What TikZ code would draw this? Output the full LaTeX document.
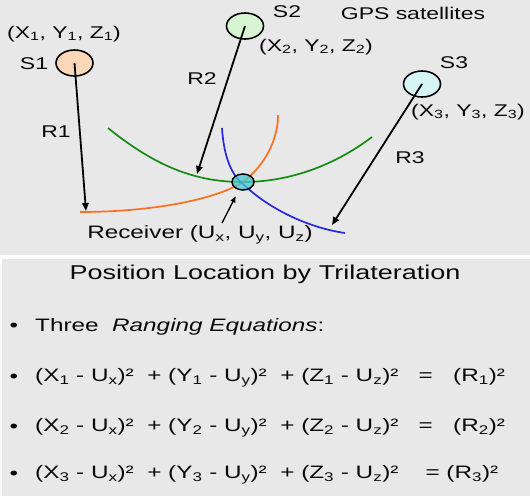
\documentclass[tikz,border=0pt]{standalone}
\usepackage{fontspec}
\setmainfont{Liberation Sans}[FakeStretch=1.35]
\usetikzlibrary{shapes.geometric,arrows.meta}
\definecolor{bg}{RGB}{232,232,232}
\definecolor{txt}{RGB}{10,10,10}
\definecolor{arcgreen}{RGB}{20,140,20}
\definecolor{arcorange}{RGB}{255,110,30}
\definecolor{arcblue}{RGB}{40,40,220}
\definecolor{sonefill}{RGB}{250,215,185}
\definecolor{stwofill}{RGB}{215,245,210}
\definecolor{sthreefill}{RGB}{215,245,245}
\definecolor{rxfill}{RGB}{70,200,210}
\newcommand{\sbs}[1]{\textsubscript{#1}}
\newcommand{\sqr}{²}
\begin{document}
\begin{tikzpicture}[x=1pt,y=-1pt,
  lbl/.style={inner sep=0pt, text=txt, font=\fontsize{17}{19}\selectfont},
  eqn/.style={inner sep=0pt, text=txt, font=\fontsize{18}{20}\selectfont, anchor=west},
  bul/.style={inner sep=0pt, text=txt, font=\fontsize{18}{20}\selectfont},
  sat/.style={ellipse, draw=black, line width=1.6pt, minimum width=37pt, minimum height=26pt, inner sep=0pt},
  rangearrow/.style={draw=black, line width=1.8pt, -{Triangle[length=8pt,width=6.5pt]}},
  arcline/.style={line width=1.7pt},
]
\useasboundingbox (0,0) rectangle (530,496);
\fill[bg] (0,0) rectangle (530,496);
\fill[white] (0,255) rectangle (530,258.5);
\fill[white] (0,258) rectangle (2,496);

% arcs
\draw[arcline, arcgreen] (108,128) .. controls (160,170) and (200,182) .. (243,182) .. controls (290,182) and (335,165) .. (372,137);
\draw[arcline, arcorange] (80,212) .. controls (150,212) and (215,200) .. (243,182) .. controls (265,165) and (278,140) .. (278,115);
\draw[arcline, arcblue] (222,128) .. controls (224,160) and (233,176) .. (243,184) .. controls (270,210) and (310,228) .. (345,233);

% satellites
\node[sat, fill=sonefill] (s1) at (74.5,63) {};
\node[sat, fill=stwofill] (s2) at (245,26) {};
\node[sat, fill=sthreefill] (s3) at (422,84) {};

% range arrow ends
\coordinate (e1) at (86,211);
\coordinate (e2) at (197,174);
\coordinate (e3) at (332,225);
\draw[rangearrow] (s1.center) -- (e1);
\draw[rangearrow] (s2.center) -- (e2);
\draw[rangearrow] (s3.center) -- (e3);

% receiver
\node[ellipse, draw=black, line width=1.5pt, fill=rxfill, fill opacity=0.75, minimum width=22pt, minimum height=16pt, inner sep=0pt] (rx) at (243,182) {};
\node[lbl, font=\fontsize{18}{20}\selectfont] (rxl) at (200,235) {Receiver (U\sbs{x}, U\sbs{y}, U\sbs{z})};
\coordinate (rxa) at (222,223);
\draw[line width=1.3pt, -{Triangle[length=6pt,width=5pt]}, shorten >=7pt] (rxa) -- (rx);

% labels
\node[lbl] (l1) at (34,64) {S1};
\node[lbl] (c1) at (64,34) {(X\sbs{1}, Y\sbs{1}, Z\sbs{1})};
\node[lbl] (l2) at (287,12) {S2};
\node[lbl] (gps) at (413,13) {GPS satellites};
\node[lbl] (c2) at (316,47) {(X\sbs{2}, Y\sbs{2}, Z\sbs{2})};
\node[lbl] (l3) at (454,63) {S3};
\node[lbl] (c3) at (468,112) {(X\sbs{3}, Y\sbs{3}, Z\sbs{3})};
\node[lbl] (r1) at (56,132) {R1};
\node[lbl] (r2) at (202,79) {R2};
\node[lbl] (r3) at (410,158) {R3};

% lower panel
\node[inner sep=0pt, text=txt, font=\fontsize{20}{22}\selectfont] (title) at (265,274) {Position Location by Trilateration};
\node[bul] (b0) at (14,327) {•};
\node[eqn] (t0) at (35,327) {Three\ \ \textit{Ranging Equations}:};
\node[bul] (b1) at (14,378) {•};
\node[eqn] (q1) at (35,378) {(X\sbs{1} - U\sbs{x})\sqr\ \ + (Y\sbs{1} - U\sbs{y})\sqr\ \ + (Z\sbs{1} - U\sbs{z})\sqr\ \ \ =\ \ \ (R\sbs{1})\sqr};
\node[bul] (b2) at (14,428) {•};
\node[eqn] (q2) at (35,428) {(X\sbs{2} - U\sbs{x})\sqr\ \ + (Y\sbs{2} - U\sbs{y})\sqr\ \ + (Z\sbs{2} - U\sbs{z})\sqr\ \ \ =\ \ \ (R\sbs{2})\sqr};
\node[bul] (b3) at (14,475) {•};
\node[eqn] (q3) at (35,475) {(X\sbs{3} - U\sbs{x})\sqr\ \ + (Y\sbs{3} - U\sbs{y})\sqr\ \ + (Z\sbs{3} - U\sbs{z})\sqr\ \ \ \ =\ (R\sbs{3})\sqr};
\end{tikzpicture}
\end{document}
